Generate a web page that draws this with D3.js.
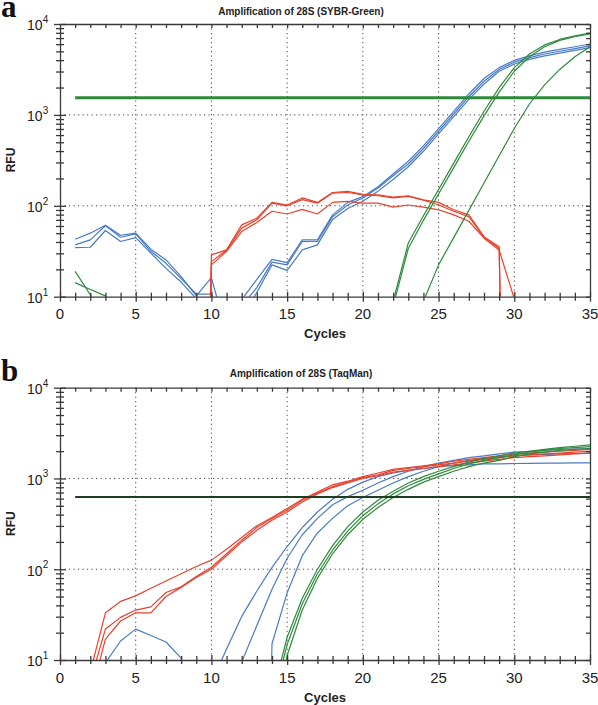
<!DOCTYPE html>
<html><head><meta charset="utf-8">
<script src="https://cdn.jsdelivr.net/npm/d3@7"></script>
<style>body{margin:0;background:#fff}svg text{font-family:"Liberation Sans",Arial,sans-serif;fill:#222}</style>
</head><body><svg id="c" width="598" height="705"></svg>
<script>
// ---------- data ----------
const cycles = [1,2,3,4,5,6,7,8,9,10,11,12,13,14,15,16,17,18,19,20,21,22,23,24,25,26,27,28,29,30,31,32,33,34,35];
const xTickLabels = [0,5,10,15,20,25,30,35];
const yDecades = [10,100,1000,10000];
const yExponents = ["1","2","3","4"];

// Panel a : SYBR-Green (RFU, 0 = no signal)
const aBlue1 = [42.9,50.0,61.2,47.4,50.1,33.3,25.4,16.6,10.2,16.2,4.0,9.3,15.5,25.7,23.7,42.2,42.2,79.4,109,126,162,224,309,457,708,1096,1698,2512,3311,3981,4467,4898,5248,5623,6026];
const aBlue2 = [37.2,42.2,60.3,45.1,49.0,31.6,23.3,15.8,10.7,10.7,4.0,7.9,12.6,24.0,22.4,40.5,40.5,75.9,102,122,157,214,288,427,661,1023,1585,2344,3162,3802,4266,4677,5012,5370,5754];
const aBlue3 = [34.7,35.0,53.5,40.5,44.7,30.2,20.5,14.5,9.5,7.9,3.2,5.6,11.2,22.4,19.5,32.7,37.2,70.8,93.3,112,145,195,269,398,617,955,1479,2188,3020,3631,4074,4467,4786,5129,5495];
const aRed1 = [0,0,0,0,0,0,0,0,0,28.8,32.7,61.7,73.1,109,102,122,109,140,144,134,132,125,129,116,109,90.4,79.4,45.7,35.5,0,0,0,0,0,0];
const aRed2 = [0,0,0,0,0,0,0,0,0,24.3,32.7,56.8,70.1,107,100,117,107,138,140,132,129,122,127,115,102,87.1,75.9,45.1,34.1,0,0,0,0,0,0];
const aRed3 = [0,0,0,0,0,0,0,0,0,22.4,31.6,52.1,65.5,87.1,81.3,91.2,81.3,109,112,107,107,96.6,102,96.6,90.4,79.4,67.6,44.0,32.7,9.5,0,0,0,0,0];
const aGreen1 = [19,10.5,5,0,0,0,0,0,0,0,0,0,0,0,0,0,0,0,0,0,0,8.9,38.9,77.6,151,295,575,1096,1995,3311,4677,5888,6761,7413,7943];
const aGreen2 = [14.3,12,10.2,6,0,0,0,0,0,0,0,0,0,0,0,0,0,0,0,0,0,7.9,33.9,69.2,135,263,513,977,1778,3020,4365,5623,6607,7244,7762];
const aGreen3 = [0,0,0,0,0,0,0,0,0,0,0,0,0,0,0,0,0,0,0,0,0,0,0,8.9,22.4,44.7,89.1,178,355,708,1318,2138,3162,4365,5623];
const aThreshold = 1540;

// Panel b : TaqMan
const bBlue1 = [0,0,0,0,0,0,0,0,0,5.6,13.2,30.2,57.5,105,178,288,427,589,759,912,1047,1148,1230,1288,1349,1380,1413,1445,1450,1462,1470,1476,1479,1482,1485];
const bBlue2 = [0,0,0,0,0,0,0,0,0,0,0,9.5,24.0,60.3,132,240,363,513,631,741,891,1047,1202,1349,1479,1585,1698,1778,1862,1950,1995,2042,2089,2113,2138];
const bBlue3 = [0,0,9.3,16.2,21.9,18.6,15.8,10.5,0,0,0,0,0,15.1,55,141,251,363,501,617,741,891,1047,1202,1349,1479,1585,1660,1738,1778,1820,1841,1862,1884,1905];
const bRed1 = [0,7.4,33.1,44.2,50.9,61.7,74.1,89.1,107,126,166,224,302,372,468,589,708,851,933,1047,1148,1259,1318,1380,1445,1549,1622,1698,1778,1862,1905,1950,1995,2042,2089];
const bRed2 = [0,5.9,21.9,29.5,35.5,38.5,55.5,64.0,83.2,105,148,209,288,363,447,575,692,813,912,1023,1096,1230,1288,1349,1413,1479,1549,1622,1698,1778,1820,1862,1905,1950,1995];
const bRed3 = [0,3.9,17.0,26.9,33.1,33.1,50.1,63.1,81.3,100,141,200,269,347,427,550,676,794,891,1000,1072,1175,1230,1288,1349,1413,1479,1549,1622,1698,1738,1778,1820,1862,1905];
const bGreen1 = [0,0,0,0,0,0,0,0,0,0,0,0,0,4.0,17.8,47.9,100,182,295,427,575,724,891,1047,1202,1349,1514,1660,1778,1905,1995,2089,2188,2265,2344];
const bGreen2 = [0,0,0,0,0,0,0,0,0,0,0,0,0,3.2,14.8,41.7,89.1,162,263,389,525,676,832,977,1122,1288,1445,1585,1698,1820,1950,2042,2138,2188,2239];
const bGreen3 = [0,0,0,0,0,0,0,0,0,0,0,0,0,2.0,11.2,35.5,79.4,148,240,355,479,617,759,912,1047,1202,1349,1479,1585,1738,1862,1950,2042,2089,2138];
const bThreshold = 625;

// ---------- drawing ----------
const BLUE = "#4a7cc3", RED = "#e5432f", GREEN = "#2f8a3d";
const svg = d3.select("#c");
const X0 = 60, X1 = 590;
const x = d3.scaleLinear().domain([0,35]).range([X0,X1]);

function panel(o){
  const y = d3.scaleLog().domain([10,10000]).range([o.bottom,o.top]);
  const g = svg.append("g");
  const cid = "clip"+o.id;
  svg.append("defs").append("clipPath").attr("id",cid)
    .append("rect").attr("x",X0).attr("y",o.top).attr("width",X1-X0).attr("height",o.bottom-o.top);

  // letter & title
  svg.append("text").attr("x",1).attr("y",o.top-7).text(o.letter)
    .style("font-family","'Liberation Serif','Times New Roman',serif").style("font-weight","bold").style("font-size","31px").style("fill","#111");
  svg.append("text").attr("x",(X0+X1)/2-24).attr("y",o.titleY).attr("text-anchor","middle")
    .style("font-weight","bold").style("font-size","10px").text(o.title);

  // grid
  const grid = g.append("g").attr("stroke","#444").attr("stroke-width",1).attr("stroke-dasharray","1.2,3.3");
  grid.selectAll("line.v").data([5,10,15,20,25,30]).join("line")
    .attr("x1",d=>x(d)).attr("x2",d=>x(d)).attr("y1",o.top).attr("y2",o.bottom);
  grid.selectAll("line.h").data([100,1000]).join("line")
    .attr("x1",X0).attr("x2",X1).attr("y1",d=>y(d)).attr("y2",d=>y(d));

  // curves
  const line = d3.line().x((d,i)=>x(cycles[i])).y(d=>y(Math.max(d,1e-7)));
  const cg = g.append("g").attr("clip-path",`url(#${cid})`).attr("fill","none").attr("stroke-width",1.2).attr("stroke-linejoin","round");
  o.series.forEach(s=>{
    cg.append("path").attr("d",line(s.v)).attr("stroke",s.c);
  });
  // threshold
  cg.append("line").attr("x1",x(1)).attr("x2",x(35)).attr("y1",y(o.threshold)).attr("y2",y(o.threshold))
    .attr("stroke",o.thColor).attr("stroke-width",o.thWidth);

  // axes
  const logTicks = [];
  [10,100,1000].forEach(dec=>{ for(let k=1;k<10;k++) logTicks.push(dec*k); });
  logTicks.push(10000);
  const axStyle = sel=>{ sel.selectAll("path,line").attr("stroke","#3a3a3a").attr("stroke-width",1.3); sel.selectAll("text").remove(); };

  // bottom
  const bot = g.append("g").attr("transform",`translate(0,${o.bottom})`)
    .call(d3.axisBottom(x).tickValues(cycles.concat([0])).tickSizeOuter(0).tickFormat(""));
  axStyle(bot);
  bot.selectAll(".tick line").attr("y1",d=>d%5===0?-5:-4).attr("y2",d=>d%5===0?5:4);
  // top
  const top = g.append("g").attr("transform",`translate(0,${o.top})`)
    .call(d3.axisBottom(x).tickValues(cycles).tickSizeInner(4).tickSizeOuter(0).tickFormat(""));
  axStyle(top);
  // left
  const left = g.append("g").attr("transform",`translate(${X0},0)`)
    .call(d3.axisLeft(y).tickValues(logTicks).tickSizeOuter(0).tickFormat(""));
  axStyle(left);
  left.selectAll(".tick line").attr("x1",d=>yDecades.includes(d)?-6:-4).attr("x2",d=>yDecades.includes(d)?6:4);
  // right
  const right = g.append("g").attr("transform",`translate(${X1},0)`)
    .call(d3.axisLeft(y).tickValues(logTicks).tickSizeInner(4).tickSizeOuter(0).tickFormat(""));
  axStyle(right);

  // x tick labels
  g.selectAll("text.xt").data(xTickLabels).join("text")
    .attr("x",d=>x(d)).attr("y",o.bottom+22.5).attr("text-anchor","middle")
    .style("font-size","15px").text(d=>d);
  // y tick labels
  yDecades.forEach((d,i)=>{
    g.append("text").attr("x",42.5).attr("y",y(d)+6.3).attr("text-anchor","end").style("font-size","14px").text("10");
    g.append("text").attr("x",42.8).attr("y",y(d)-1).style("font-size","10px").text(yExponents[i]);
  });
  // axis titles
  g.append("text").attr("transform",`translate(15,${o.top+136}) rotate(-90)`).attr("text-anchor","middle")
    .style("font-weight","bold").style("font-size","12px").text("RFU");
  g.append("text").attr("x",(X0+X1)/2).attr("y",o.bottom+41.5).attr("text-anchor","middle")
    .style("font-weight","bold").style("font-size","13px").text("Cycles");
}

panel({id:"a", letter:"a", title:"Amplification of 28S (SYBR-Green)", titleY:14.5, top:24, bottom:296.7,
  threshold:aThreshold, thColor:"#2c8a3b", thWidth:3,
  series:[{v:aBlue1,c:BLUE},{v:aBlue2,c:BLUE},{v:aBlue3,c:BLUE},
          {v:aRed1,c:RED},{v:aRed2,c:RED},{v:aRed3,c:RED},
          {v:aGreen1,c:GREEN},{v:aGreen2,c:GREEN},{v:aGreen3,c:GREEN}]});
panel({id:"b", letter:"b", title:"Amplification of 28S (TaqMan)", titleY:376.5, top:387.7, bottom:660,
  threshold:bThreshold, thColor:"#1d3f1f", thWidth:2,
  series:[{v:bBlue1,c:BLUE},{v:bBlue2,c:BLUE},{v:bBlue3,c:BLUE},
          {v:bRed1,c:RED},{v:bRed2,c:RED},{v:bRed3,c:RED},
          {v:bGreen1,c:GREEN},{v:bGreen2,c:GREEN},{v:bGreen3,c:GREEN}]});
</script>
</body></html>
